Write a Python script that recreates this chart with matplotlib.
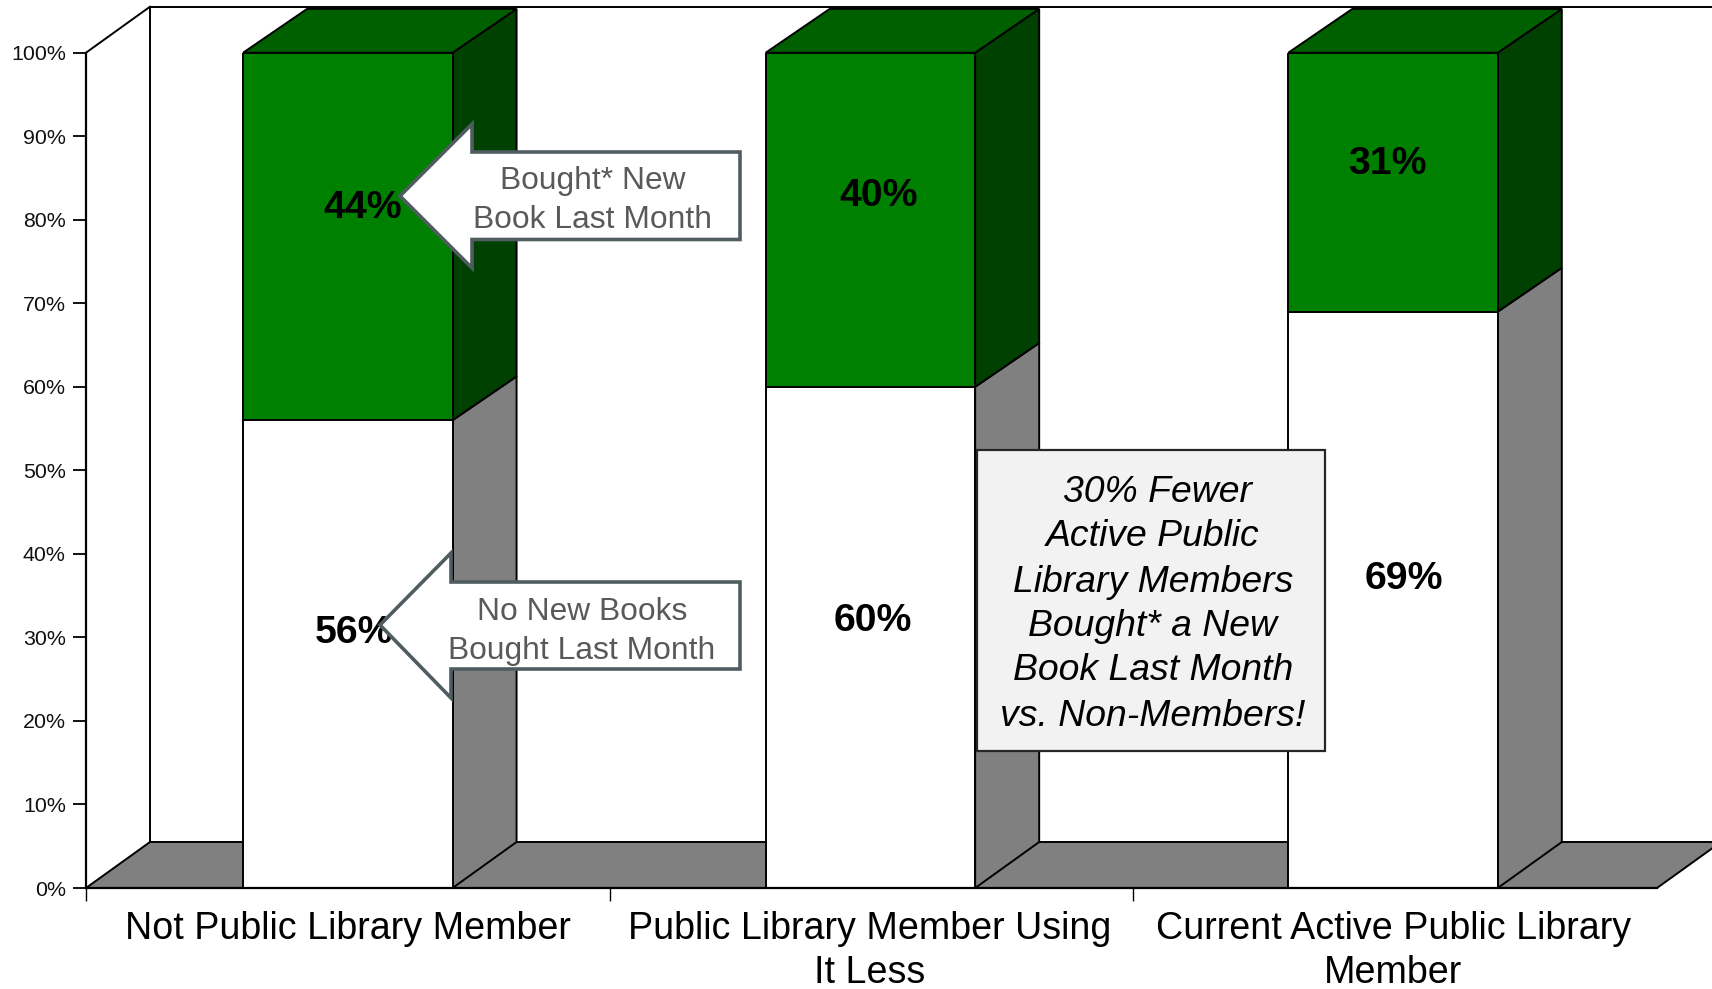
import matplotlib
matplotlib.use("Agg")
import matplotlib.pyplot as plt
from matplotlib.patches import Polygon, Rectangle

plt.rcParams['font.family'] = ['Liberation Sans', 'DejaVu Sans']

# ---- data ----
categories = ["Not Public Library Member",
              "Public Library Member Using\nIt Less",
              "Current Active Public Library\nMember"]
no_new_books = [56, 60, 69]
bought_new = [44, 40, 31]
y_ticks = [0, 10, 20, 30, 40, 50, 60, 70, 80, 90, 100]
y_labels = [f"{v}%" for v in y_ticks]
no_new_labels = ["56%", "60%", "69%"]
bought_labels = ["44%", "40%", "31%"]
callout_top = ["Bought* New", "Book Last Month"]
callout_bottom = ["No New Books", "Bought Last Month"]
note_lines = ["30% Fewer", "Active Public", "Library Members",
              "Bought* a New", "Book Last Month", "vs. Non-Members!"]

# ---- style ----
W, H = 1712, 989
GREY = "#808080"
GREEN = "#008000"
GREEN_SIDE = "#004000"
GREEN_TOP = "#006000"
ARROW_EDGE = "#4F5D60"
ARROW_TEXT = "#595959"
LW = 1.4

fig = plt.figure(figsize=(W / 100, H / 100), dpi=100, facecolor="white")
ax = fig.add_axes([86 / W, 1 - 888 / H, (1657 - 86) / W, (888 - 52.7) / H])
n = len(categories)
ax.set_xlim(0, n)
ax.set_ylim(0, 100)
ax.patch.set_alpha(0)

dx = 64 / ((1657 - 86) / n)
dy = 46 / ((888 - 52.7) / 100)
bar_dy = 43.8 / ((888 - 52.7) / 100)
bar_w = 0.4
xs = [i + 0.5 - 0.002 * i for i in range(n)]
label_xs = [i + 0.5 - 0.004 * min(i, 1) for i in range(n)]

# walls and floor
ax.add_patch(Polygon([(0, 0), (dx, dy), (n + dx, dy), (n, 0)], closed=True,
                     fc=GREY, ec="black", lw=LW, clip_on=False, zorder=0.5))
ax.plot([dx, dx], [dy, 100 + dy], color="black", lw=LW, clip_on=False, zorder=0.6)
ax.plot([0, dx], [100, 100 + dy], color="black", lw=LW, clip_on=False, zorder=0.6)
ax.plot([dx, n + dx], [100 + dy, 100 + dy], color="black", lw=LW, clip_on=False, zorder=0.6)

# bars
ax.bar(xs, no_new_books, width=bar_w, color="white", edgecolor="black", linewidth=LW, zorder=2)
ax.bar(xs, bought_new, width=bar_w, bottom=no_new_books, color=GREEN,
       edgecolor="black", linewidth=LW, zorder=2)
for x, a, b in zip(xs, no_new_books, bought_new):
    left, right = x - bar_w / 2, x + bar_w / 2
    total = a + b
    ax.add_patch(Polygon([(right, 0), (right + dx, dy), (right + dx, a + bar_dy), (right, a)],
                         closed=True, fc=GREY, ec="black", lw=LW, clip_on=False, zorder=1.5))
    ax.add_patch(Polygon([(right, a), (right + dx, a + bar_dy), (right + dx, total + bar_dy), (right, total)],
                         closed=True, fc=GREEN_SIDE, ec="black", lw=LW, clip_on=False, zorder=1.5))
    ax.add_patch(Polygon([(left, total), (left + dx, total + bar_dy), (right + dx, total + bar_dy), (right, total)],
                         closed=True, fc=GREEN_TOP, ec="black", lw=LW, clip_on=False, zorder=1.5))

# axes
for s in ("top", "right"):
    ax.spines[s].set_visible(False)
for s in ("left", "bottom"):
    ax.spines[s].set_linewidth(1.6)
ax.set_yticks(y_ticks)
ax.set_yticklabels(y_labels, fontsize=15.4, color="#111111")
ax.tick_params(axis="y", length=9.5, width=1.3, pad=5)
ax.set_xticks([0, 1, 2])
ax.set_xticklabels([])
ax.tick_params(axis="x", which="major", length=9, width=1.0)
ax.set_xticks(label_xs, minor=True)
ax.set_xticklabels(categories, minor=True, fontsize=27.1)
ax.tick_params(axis="x", which="minor", length=0, pad=16.5)
for lab in ax.get_xticklabels(minor=True):
    lab.set_linespacing(1.3)

# overlay in pixel units for annotations
ov = fig.add_axes([0, 0, 1, 1], zorder=5)
ov.set_xlim(0, W)
ov.set_ylim(H, 0)
ov.axis("off")
ov.patch.set_alpha(0)

value_pos_low = [(354, 633), (873, 621), (1404, 579)]
value_pos_high = [(363, 208), (879, 196), (1387, 164)]
for (px, py), t in zip(value_pos_low, no_new_labels):
    ov.text(px, py, t, ha="center", va="center", fontsize=28.3, fontweight="bold", color="black", zorder=1)
for (px, py), t in zip(value_pos_high, bought_labels):
    ov.text(px, py, t, ha="center", va="center", fontsize=28.3, fontweight="bold", color="black", zorder=1)

def left_arrow(right, top, bottom, neck, tip, tip_y, head_top, head_bottom):
    ov.add_patch(Polygon([(right, top), (neck, top), (neck, head_top), (tip, tip_y),
                          (neck, head_bottom), (neck, bottom), (right, bottom)],
                         closed=True, fc="white", ec=ARROW_EDGE, lw=2.6, zorder=3,
                         joinstyle="miter"))

left_arrow(740, 152, 239.5, 472, 400, 196, 124, 268)
left_arrow(740, 582, 669, 451, 380, 625, 553, 698)

for t, py in zip(callout_top, (180.5, 220)):
    ov.text(593, py, t, ha="center", va="center", fontsize=22.9, color=ARROW_TEXT, zorder=4)
for t, py in zip(callout_bottom, (612, 651)):
    ov.text(582, py, t, ha="center", va="center", fontsize=22.9, color=ARROW_TEXT, zorder=4)

ov.add_patch(Rectangle((977, 449.5), 348, 301, fc="#F2F2F2", ec="#262626", lw=1.6, zorder=3))
for t, px, py in zip(note_lines, (1158, 1153, 1153, 1153, 1153, 1153),
                     (493, 536.5, 582.5, 626.5, 670.5, 716.5)):
    ov.text(px, py, t, ha="center", va="center", fontsize=26.9, fontstyle="italic",
            color="black", zorder=4)

fig.savefig("out.png", dpi=100)
